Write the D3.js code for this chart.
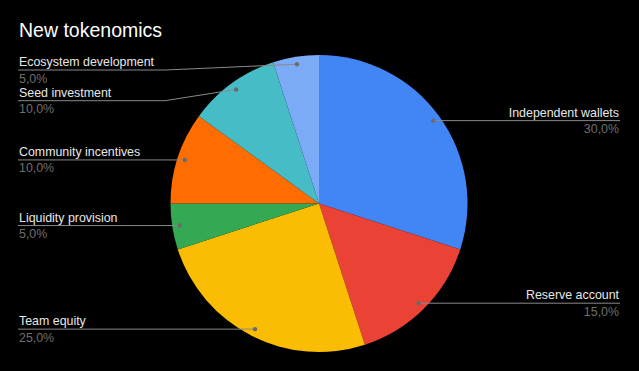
<!DOCTYPE html>
<html>
<head>
<meta charset="utf-8">
<script src="https://cdn.jsdelivr.net/npm/d3@7"></script>
<style>
  body { margin: 0; background: #000; }
  svg { display: block; font-family: Arial, "Liberation Sans", sans-serif; }
</style>
</head>
<body>
<svg id="chart"></svg>
<script>
const labels = ["Independent wallets", "Reserve account", "Team equity", "Liquidity provision",
    "Community incentives", "Seed investment", "Ecosystem development"]
const values = [30, 15, 25, 5, 10, 10, 5]
const colors = ["#4285f4", "#ea4335", "#fbbc04", "#34a853", "#ff6d01", "#46bdc6", "#7baaf7"]

const width = 639,
    height = 371,
    cx = 319,
    cy = 203.5,
    radius = 148.5,
    dotR = 141

const svg = d3.select("#chart")
    .attr("width", width)
    .attr("height", height)

svg.append("rect").attr("width", width).attr("height", height).attr("fill", "#000")

svg.append("text")
    .attr("x", 19)
    .attr("y", 37)
    .attr("fill", "#fff")
    .style("font-size", "19.5px")
    .text("New tokenomics")

const total = d3.sum(values)
const pie = d3.pie().sort(null).value(d => d)
const arcs = pie(values)
const arc = d3.arc().innerRadius(0).outerRadius(radius)

const g = svg.append("g").attr("transform", `translate(${cx},${cy})`)

g.selectAll("path")
    .data(arcs)
    .enter()
    .append("path")
    .attr("d", arc)
    .attr("fill", (d, i) => colors[i])

// label positions: dot on the slice, label line pushed down if too close
const items = arcs.map((d, i) => {
    const a = (d.startAngle + d.endAngle) / 2
    return {
        i: i,
        dx: cx + dotR * Math.sin(a),
        dy: cy - dotR * Math.cos(a),
        left: Math.sin(a) < 0
    }
})

const gap = 30.7, minY = 70
;[true, false].forEach(side => {
    let prev = -Infinity
    items.filter(d => d.left === side)
        .sort((a, b) => a.dy - b.dy)
        .forEach(d => {
            d.ly = Math.max(d.dy, prev + gap, minY)
            prev = d.ly
        })
})

const lab = svg.append("g")

items.forEach(d => {
    const pct = (values[d.i] / total * 100).toFixed(1).replace(".", ",") + "%"
    let pts
    if (d.left) {
        pts = Math.abs(d.ly - d.dy) < 0.5
            ? [[18, d.ly], [d.dx, d.dy]]
            : [[18, d.ly], [165, d.ly], [d.dx, d.dy]]
    } else {
        pts = Math.abs(d.ly - d.dy) < 0.5
            ? [[d.dx, d.dy], [620, d.ly]]
            : [[d.dx, d.dy], [474, d.ly], [620, d.ly]]
    }
    lab.append("path")
        .attr("d", d3.line()(pts))
        .attr("fill", "none")
        .attr("stroke", "#8a8a8a")
        .attr("stroke-width", 1)
    lab.append("circle")
        .attr("cx", d.dx)
        .attr("cy", d.dy)
        .attr("r", 2.2)
        .attr("fill", "#6b6b6b")
    const x = d.left ? 19 : 619
    const anchor = d.left ? "start" : "end"
    lab.append("text")
        .attr("x", x)
        .attr("y", d.ly - 4)
        .attr("text-anchor", anchor)
        .attr("fill", "#e8e8e8")
        .style("font-size", "12.4px")
        .text(labels[d.i])
    lab.append("text")
        .attr("x", x)
        .attr("y", d.ly + 12.5)
        .attr("text-anchor", anchor)
        .attr("fill", "#6f6f6f")
        .style("font-size", "12.4px")
        .text(pct)
})
</script>
</body>
</html>
